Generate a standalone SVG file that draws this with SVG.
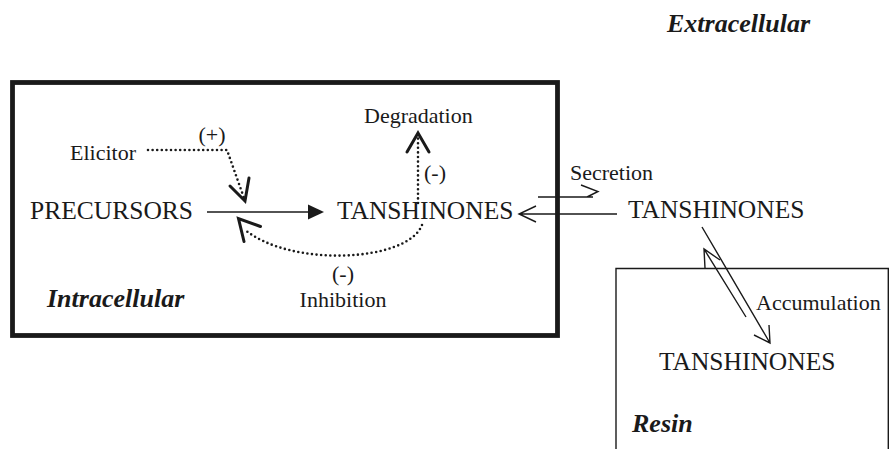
<svg xmlns="http://www.w3.org/2000/svg" width="891" height="449" viewBox="0 0 891 449">
<style>
text{font-family:"Liberation Serif","Times New Roman",serif;fill:#1a1a1a}
.big{font-size:25.5px}
.sm{font-size:22px}
.bi{font-size:26px;font-weight:bold;font-style:italic}
.thin{fill:none;stroke:#1a1a1a;stroke-width:1.4}
.dot{fill:none;stroke:#1a1a1a;stroke-width:2.6;stroke-linecap:round;stroke-dasharray:0 4.6}
.head{fill:none;stroke:#1a1a1a;stroke-width:3;stroke-linecap:round;stroke-linejoin:miter}
</style>
<rect width="891" height="449" fill="#fff"/>
<g id="intracellular-box">
<rect x="12.5" y="82.5" width="545" height="253" fill="none" stroke="#1a1a1a" stroke-width="4.8"/>
<text class="bi" x="47" y="307">Intracellular</text>
</g>
<g id="resin-box">
<path class="thin" d="M616,452 V268.5 H888.3 V452"/>
<text class="bi" x="632" y="432">Resin</text>
</g>
<g id="extracellular"><text class="bi" x="810" y="32" text-anchor="end">Extracellular</text></g>
<g id="elicitor"><text class="sm" x="70" y="160">Elicitor</text></g>
<g id="precursors"><text class="big" x="30" y="219">PRECURSORS</text></g>
<g id="tanshinones-in"><text class="big" x="337" y="219">TANSHINONES</text></g>
<g id="degradation"><text class="sm" x="364" y="123">Degradation</text></g>
<g id="tanshinones-out"><text class="big" x="628" y="218">TANSHINONES</text></g>
<g id="tanshinones-resin"><text class="big" x="659" y="370">TANSHINONES</text></g>
<g id="connectors">
<!-- elicitor -->
<path class="dot" d="M148,150 H227 L244,198"/>
<path class="head" d="M230,186 L245,201 L249,178"/>
<text class="sm" x="212" y="142" text-anchor="middle">(+)</text>
<!-- main -->
<line x1="207" y1="212" x2="310" y2="212" stroke="#1a1a1a" stroke-width="1.6"/>
<path d="M324,212 L308,204.5 L308,219.5 Z" fill="#1a1a1a"/>
<!-- degradation -->
<path class="dot" d="M418,203 V137"/>
<path class="head" d="M407,152 L418,133 L429,152"/>
<text class="sm" x="424" y="180">(-)</text>
<!-- inhibition -->
<path class="dot" d="M422,225 C408,262 290,268 244,229"/>
<path class="head" d="M260.5,226.5 L238.5,218.5 L244,241.5"/>
<text class="sm" x="343" y="281" text-anchor="middle">(-)</text>
<text class="sm" x="343" y="307" text-anchor="middle">Inhibition</text>
<!-- secretion -->
<text class="sm" x="570" y="180">Secretion</text>
<path class="thin" d="M538,197 H593 M581,185 L598,191.5 L587,197"/>
<path class="thin" d="M617,214 H519 M536,206 L519,214 L536,222"/>
<!-- accumulation -->
<path class="thin" d="M702,227 L770,343 M754,335 L770,343 L769,325"/>
<path class="thin" d="M746,317 L704,249 M705,268 L704,249 L720,260"/>
<text class="sm" x="756" y="310">Accumulation</text>
</g>
</svg>
